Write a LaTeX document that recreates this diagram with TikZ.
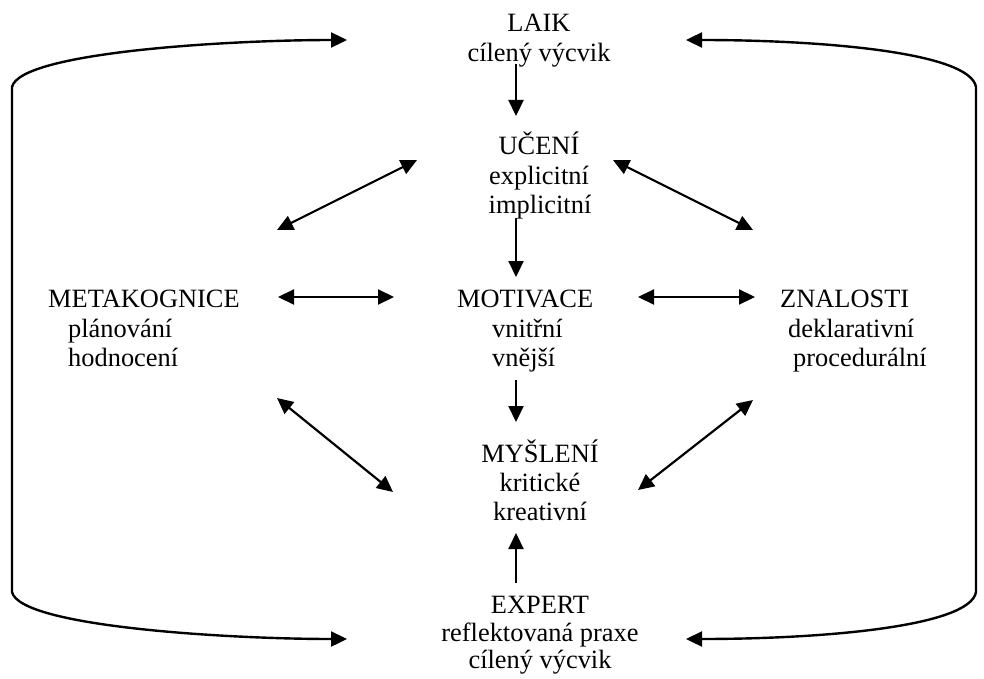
\documentclass[tikz,border=0pt]{standalone}
\usepackage{fontspec}
\setmainfont{Liberation Serif}
\usetikzlibrary{arrows.meta}
\begin{document}
\begin{tikzpicture}[x=1pt,y=-1pt,
  txt/.style={inner sep=0pt, font=\fontsize{26.4}{30}\selectfont},
  ctr/.style={txt, anchor=base},
  lft/.style={txt, anchor=base west},
  tip/.tip={Triangle[length=16pt,width=15pt]},
  arr/.style={line width=2.2pt, -tip},
  darr/.style={line width=2.2pt, tip-tip},
  looparr/.style={line width=2.4pt, tip-tip}]
\useasboundingbox (0,0) rectangle (984,679);
% text nodes
\node[ctr] (laik) at (539,32) {LAIK};
\node[ctr] (laik2) at (539,62) {cílený výcvik};
\node[ctr] (uceni) at (539,155) {UČENÍ};
\node[ctr] (uceni2) at (539,184) {explicitní};
\node[ctr] (uceni3) at (540,213) {implicitní};
\node[lft] (meta) at (48,307) {METAKOGNICE};
\node[lft] (meta2) at (68,337) {plánování};
\node[lft] (meta3) at (68,366) {hodnocení};
\node[lft] (motiv) at (457,307) {MOTIVACE};
\node[lft] (motiv2) at (492,337) {vnitřní};
\node[lft] (motiv3) at (492,366) {vnější};
\node[lft] (znal) at (780,307) {ZNALOSTI};
\node[lft] (znal2) at (788,337) {deklarativní};
\node[lft] (znal3) at (793,366) {procedurální};
\node[ctr] (mysl) at (540,462) {MYŠLENÍ};
\node[ctr] (mysl2) at (540,491) {kritické};
\node[ctr] (mysl3) at (540,520) {kreativní};
\node[ctr] (expert) at (540,613) {EXPERT};
\node[ctr] (expert2) at (540,641) {reflektovaná praxe};
\node[ctr] (expert3) at (540,668) {cílený výcvik};
% connector end points
\coordinate (laikS) at (516,64);
\coordinate (uceniN) at (516,116);
\coordinate (uceniS) at (516,218);
\coordinate (motivN) at (516,277);
\coordinate (motivS) at (516,380);
\coordinate (myslN) at (516,422);
\coordinate (myslS) at (516,533);
\coordinate (expertN) at (516,583);
\coordinate (uceniW) at (417,160);
\coordinate (metaNE) at (277,230);
\coordinate (uceniE) at (613,160);
\coordinate (znalNW) at (753,230);
\coordinate (metaE) at (278,297);
\coordinate (motivW) at (394,297);
\coordinate (motivE) at (638,297);
\coordinate (znalW) at (755,297);
\coordinate (metaSE) at (277,398);
\coordinate (myslW) at (393,492);
\coordinate (znalSW) at (753,400);
\coordinate (myslE) at (638,490);
\coordinate (laikW) at (347,40);
\coordinate (expertW) at (347,639);
\coordinate (laikE) at (686,40);
\coordinate (expertE) at (686,639);
% connectors
\draw[arr] (laikS) -- (uceniN);
\draw[arr] (uceniS) -- (motivN);
\draw[arr] (motivS) -- (myslN);
\draw[arr] (expertN) -- (myslS);
\draw[darr] (uceniW) -- (metaNE);
\draw[darr] (uceniE) -- (znalNW);
\draw[darr] (metaE) -- (motivW);
\draw[darr] (motivE) -- (znalW);
\draw[darr] (metaSE) -- (myslW);
\draw[darr] (znalSW) -- (myslE);
\draw[looparr] (laikW) .. controls (230,40) and (20,52) .. (12,87)
  -- (12,592) .. controls (20,627) and (230,639) .. (expertW);
\draw[looparr] (laikE) .. controls (820,40) and (970,52) .. (976,87)
  -- (976,592) .. controls (970,627) and (820,639) .. (expertE);
\end{tikzpicture}
\end{document}
